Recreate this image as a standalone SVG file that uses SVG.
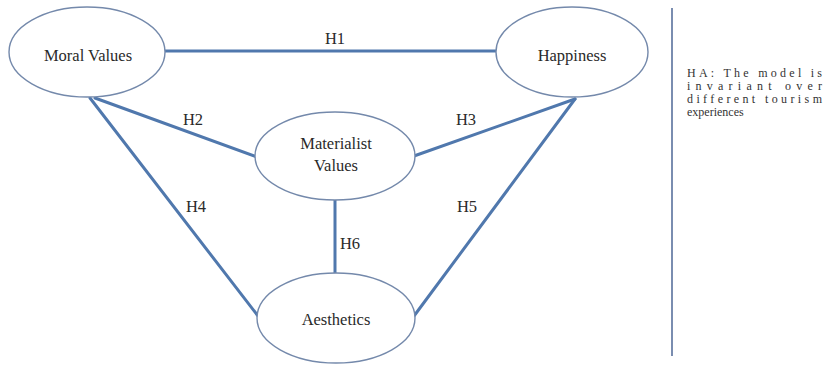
<svg xmlns="http://www.w3.org/2000/svg" width="829" height="366" viewBox="0 0 829 366">
  <style>
    .bg { fill: #ffffff; }
    .edge { stroke: #5078ad; stroke-width: 3; fill: none; stroke-linecap: round; }
    .node { fill: #ffffff; stroke: #7489ab; stroke-width: 1.4; }
    .lbl { font-family: "Liberation Serif", "DejaVu Serif", serif; font-size: 16.5px; fill: #2a2a2a; text-anchor: middle; }
    .note { font-family: "Liberation Serif", "DejaVu Serif", serif; font-size: 12px; fill: #333333; }
    .divider { stroke: #7a8db0; stroke-width: 2; }
  </style>
  <rect class="bg" x="0" y="0" width="829" height="366"/>

  <!-- connectors between the constructs -->
  <g id="connectors">
    <line class="edge" x1="165" y1="51" x2="497" y2="51"/>
    <line class="edge" x1="95" y1="98" x2="257" y2="157"/>
    <line class="edge" x1="90" y1="98" x2="258" y2="316"/>
    <line class="edge" x1="414" y1="156" x2="575" y2="99"/>
    <line class="edge" x1="575" y1="99" x2="414" y2="316"/>
    <line class="edge" x1="335" y1="200" x2="335" y2="273"/>
    <text class="lbl" x="335" y="44">H1</text>
    <text class="lbl" x="193" y="125">H2</text>
    <text class="lbl" x="466" y="125">H3</text>
    <text class="lbl" x="196" y="212">H4</text>
    <text class="lbl" x="467" y="212">H5</text>
    <text class="lbl" x="350" y="249">H6</text>
  </g>

  <g id="moral-values">
    <ellipse class="node" cx="87" cy="52" rx="78" ry="45"/>
    <text class="lbl" x="88" y="61">Moral Values</text>
  </g>

  <g id="happiness">
    <ellipse class="node" cx="572" cy="52" rx="76" ry="45"/>
    <text class="lbl" x="572" y="61">Happiness</text>
  </g>

  <g id="materialist-values">
    <ellipse class="node" cx="335" cy="156" rx="80" ry="44"/>
    <text class="lbl" x="336" y="149">Materialist</text>
    <text class="lbl" x="336" y="171">Values</text>
  </g>

  <g id="aesthetics">
    <ellipse class="node" cx="336" cy="318" rx="79" ry="45"/>
    <text class="lbl" x="336" y="325">Aesthetics</text>
  </g>

  <!-- side note -->
  <line class="divider" x1="672" y1="8" x2="672" y2="356"/>
  <g id="note">
    <text class="note" x="687" y="77" textLength="135" lengthAdjust="spacing">HA: The model is</text>
    <text class="note" x="687" y="90" textLength="135" lengthAdjust="spacing">invariant over</text>
    <text class="note" x="687" y="103" textLength="135" lengthAdjust="spacing">different tourism</text>
    <text class="note" x="687" y="116">experiences</text>
  </g>
</svg>
